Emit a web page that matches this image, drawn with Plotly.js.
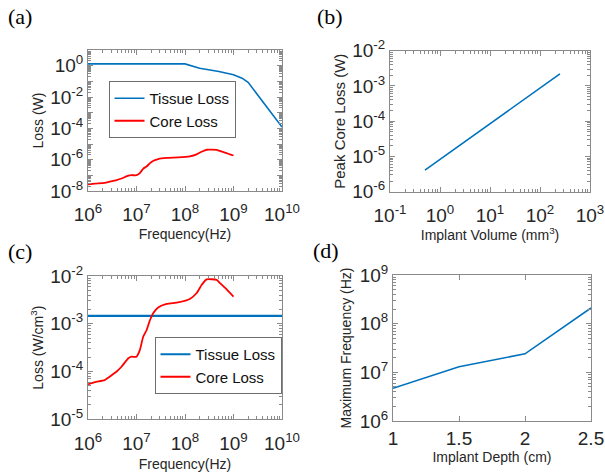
<!DOCTYPE html>
<html><head><meta charset="utf-8">
<script src="https://cdn.plot.ly/plotly-3.0.1.min.js"></script>
<style>html,body{margin:0;padding:0;background:#fff}#chart{width:605px;height:472px}</style>
</head><body><div id="chart"></div>
<script>
// (a) Loss (W) vs frequency
const freqTissueA = [1e6, 1e8, 2e8, 5e8, 1e9, 1.5e9, 2e9, 3e9, 5e9, 1e10];
const tissueLossA = [1.3, 1.3, 0.68, 0.42, 0.26, 0.16, 0.087, 0.017, 1.9e-3, 1.2e-4];
const freqCore = [1e6, 1.4e6, 2.2e6, 2.8e6, 3.9e6, 4.9e6, 6.8e6, 7.9e6, 1.0e7, 1.17e7, 1.38e7, 1.62e7, 1.9e7, 2.24e7, 2.8e7, 4.2e7, 7.2e7, 1.26e8, 1.74e8, 2.2e8, 2.8e8, 4.5e8, 5.2e8, 6.9e8, 1e9];
const coreLossA = [2.7e-8, 3.0e-8, 3.3e-8, 3.9e-8, 5.0e-8, 6.3e-8, 9.5e-8, 1.02e-7, 1.02e-7, 1.4e-7, 2.7e-7, 3.7e-7, 6.0e-7, 8.5e-7, 1.1e-6, 1.3e-6, 1.4e-6, 1.65e-6, 2.2e-6, 3.2e-6, 4.3e-6, 4.2e-6, 3.6e-6, 2.75e-6, 1.85e-6];
// (b) Peak core loss vs implant volume
const implantVolume = [0.5, 4, 32, 250];
const peakCoreLoss = [4.1e-6, 3.4e-5, 2.75e-4, 2.2e-3];
// (c) Loss density (W/cm^3) vs frequency
const freqTissueC = [1e6, 1e10];
const tissueLossC = [1.46e-3, 1.46e-3];
const coreLossC = [5.4e-5, 6.0e-5, 6.6e-5, 7.8e-5, 1.0e-4, 1.26e-4, 1.9e-4, 2.04e-4, 2.04e-4, 2.8e-4, 5.4e-4, 7.4e-4, 1.2e-3, 1.7e-3, 2.2e-3, 2.6e-3, 2.8e-3, 3.3e-3, 4.4e-3, 6.5e-3, 8.5e-3, 8.3e-3, 7.2e-3, 5.5e-3, 3.7e-3];
// (d) Maximum frequency vs implant depth
const implantDepth = [1, 1.5, 2, 2.5];
const maxFrequency = [4.7e6, 1.3e7, 2.4e7, 2.1e8];
const depthTicks = [1, 1.5, 2, 2.5];
const depthTickText = ['1', '1.5', '2', '2.5'];

const BLUE = '#0072BD', RED = '#FF0000';
const AXC = '#8a8a8a', TXT = '#262626';
const FONT = 'Arial';

function sup(n){ return '10<sup>' + (n < 0 ? '-' + (-n) : n) + '</sup>'; }
function logAxis(lo, hi, labelStep, extra){
  const vals = [], text = [], minor = [];
  for (let n = lo; n <= hi; n++) {
    vals.push(Math.pow(10, n));
    text.push(((n - lo) % labelStep === 0) ? sup(n) : '');
    if (n < hi) for (let k = 2; k <= 9; k++) minor.push(k * Math.pow(10, n));
  }
  return Object.assign({
    type: 'log', range: [lo, hi], tickmode: 'array', tickvals: vals, ticktext: text,
    ticks: 'inside', ticklen: 5, tickwidth: 1, tickcolor: AXC,
    minor: {tickmode: 'array', tickvals: minor, ticks: 'inside', ticklen: 3, tickwidth: 1, tickcolor: AXC, showgrid: false},
    showline: true, linecolor: AXC, linewidth: 1, mirror: 'allticks',
    showgrid: false, zeroline: false, automargin: false,
    tickfont: {family: FONT, size: 19, color: TXT}
  }, extra || {});
}
function ttl(text, standoff, size){ return {text: text, font: {family: FONT, size: size || 14, color: TXT}, standoff: standoff}; }

const traces = [
  {x: freqTissueA, y: tissueLossA, xaxis: 'x', yaxis: 'y', mode: 'lines', name: 'Tissue Loss', line: {color: BLUE, width: 1.6}, legend: 'legend'},
  {x: freqCore, y: coreLossA, xaxis: 'x', yaxis: 'y', mode: 'lines', name: 'Core Loss', line: {color: RED, width: 1.8, shape: 'spline', smoothing: 0.5}, legend: 'legend'},
  {x: implantVolume, y: peakCoreLoss, xaxis: 'x2', yaxis: 'y2', mode: 'lines', name: 'Peak', line: {color: BLUE, width: 1.6}, showlegend: false},
  {x: freqTissueC, y: tissueLossC, xaxis: 'x3', yaxis: 'y3', mode: 'lines', name: 'Tissue Loss', line: {color: BLUE, width: 2.2}, legend: 'legend2'},
  {x: freqCore, y: coreLossC, xaxis: 'x3', yaxis: 'y3', mode: 'lines', name: 'Core Loss', line: {color: RED, width: 1.8, shape: 'spline', smoothing: 0.5}, legend: 'legend2'},
  {x: implantDepth, y: maxFrequency, xaxis: 'x4', yaxis: 'y4', mode: 'lines', name: 'Max', line: {color: BLUE, width: 1.6}, showlegend: false}
];

const W = 605, H = 472;
function dx(a, b){ return [a / W, b / W]; }
function dy(top, bottom){ return [1 - bottom / H, 1 - top / H]; }

const legendStyle = {bgcolor: '#ffffff', bordercolor: '#6e6e6e', borderwidth: 1, font: {family: FONT, size: 15, color: '#111'}, xref: 'paper', yref: 'paper', xanchor: 'center', yanchor: 'top', tracegroupgap: 0, itemwidth: 30};

const layout = {
  width: W, height: H, margin: {l: 0, r: 0, t: 0, b: 0},
  paper_bgcolor: '#fff', plot_bgcolor: '#fff', showlegend: true,
  xaxis: logAxis(6, 10, 1, {domain: dx(88, 282), anchor: 'y', ticklabelstandoff: 6, title: ttl('Frequency(Hz)', 5)}),
  yaxis: logAxis(-8, 1, 2, {domain: dy(50, 191), anchor: 'x', title: ttl('Loss (W)', 3)}),
  xaxis2: logAxis(-1, 3, 1, {domain: dx(390, 590), anchor: 'y2', ticklabelstandoff: 6, title: ttl('Implant Volume (mm<sup>3</sup>)', 5)}),
  yaxis2: logAxis(-6, -2, 1, {domain: dy(50.7, 191.7), anchor: 'x2', title: ttl('Peak Core Loss (W)', 2, 15)}),
  xaxis3: logAxis(6, 10, 1, {domain: dx(88, 282), anchor: 'y3', ticklabelstandoff: 7, title: ttl('Frequency(Hz)', 7)}),
  yaxis3: logAxis(-5, -2, 1, {domain: dy(276, 419.3), anchor: 'x3', title: ttl('Loss (W/cm<sup>3</sup>)', 3)}),
  xaxis4: {domain: dx(393, 591), anchor: 'y4', range: [1, 2.5], tickmode: 'array', tickvals: depthTicks, ticktext: depthTickText,
    ticks: 'inside', ticklen: 5, tickcolor: AXC, showline: true, linecolor: AXC, mirror: 'allticks', showgrid: false, zeroline: false,
    automargin: false, tickfont: {family: FONT, size: 19, color: TXT}, title: ttl('Implant Depth (cm)', 4)},
  yaxis4: logAxis(6, 9, 1, {domain: dy(275, 421), anchor: 'x4', title: ttl('Maximum Frequency (Hz)', 4)}),
  legend: Object.assign({x: 172 / W, y: 1 - 81 / H}, legendStyle),
  legend2: Object.assign({x: 218 / W, y: 1 - 337 / H}, legendStyle),
  annotations: [
    {text: '(a)', x: 20 / W, y: 1 - 16 / H},
    {text: '(b)', x: 330 / W, y: 1 - 16 / H},
    {text: '(c)', x: 20 / W, y: 1 - 251 / H},
    {text: '(d)', x: 326 / W, y: 1 - 250 / H}
  ].map(a => Object.assign(a, {xref: 'paper', yref: 'paper', xanchor: 'center', yanchor: 'middle', showarrow: false,
    font: {family: 'Times New Roman', size: 22, color: '#000'}}))
};

Plotly.newPlot('chart', traces, layout, {staticPlot: true, displayModeBar: false});
</script>
</body></html>
